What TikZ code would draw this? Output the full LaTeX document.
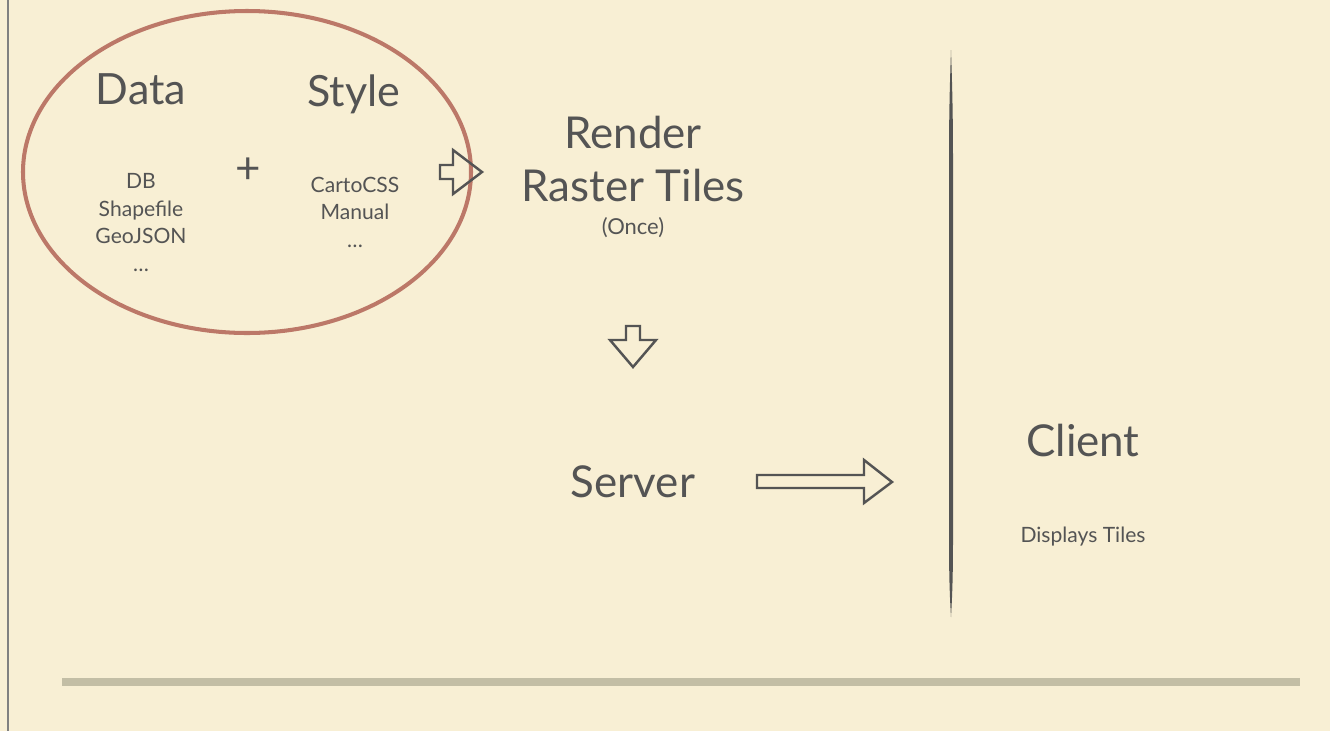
\documentclass[tikz,border=0pt]{standalone}
\usepackage{fontspec}
\setmainfont{Lato}
\usetikzlibrary{positioning}

\definecolor{paper}{HTML}{F8EFD4}
\definecolor{ink}{HTML}{545454}
\definecolor{rust}{HTML}{BC7868}
\definecolor{rulebar}{HTML}{C3BEA5}

\tikzset{
  big/.style={text=ink, font=\fontsize{25}{28}\selectfont, inner sep=0pt, anchor=base},
  bigger/.style={big, font=\fontsize{24.5}{28}\selectfont},
  small/.style={text=ink, font=\fontsize{12}{15.6}\selectfont, align=center, inner sep=0pt, anchor=base},
  hollow/.style={draw=ink, line width=1.4pt, line join=miter}
}

\begin{document}
\begin{tikzpicture}[x=0.02cm, y=-0.02cm]
  \fill[paper] (0,0) rectangle (1330,731);
  \useasboundingbox (0,0) rectangle (1330,731);
  \draw[gray, line width=0.8pt] (8,0) -- (8,731);

  % what goes in
  \draw[rust, line width=2.3pt] (247,172) ellipse (224 and 161);
  \node[bigger] (data) at (141,104) {Data};
  \node[bigger] (style) at (354,106) {Style};
  \node[big] (plus) at (248,183) {+};
  \node[small] (sources) at (141,271) {DB\\Shapefile\\GeoJSON\\\dots};
  \node[small] (looks) at (355,247) {CartoCSS\\Manual\\\dots};
  \draw[hollow] (440,165) -- (453,165) -- (453,150) -- (482,172) -- (453,194) -- (453,179) -- (440,179) -- cycle;

  % rendering
  \node[big] (render) at (633,148) {Render};
  \node[big] (raster) at (633,201) {Raster Tiles};
  \node[small, font=\fontsize{12.5}{15.6}\selectfont] (once) at (633,234) {(Once)};
  \draw[hollow] (626,326) -- (640,326) -- (640,340) -- (656,340) -- (633,367) -- (610,340) -- (626,340) -- cycle;

  \node[big] (server) at (633,497) {Server};
  \draw[hollow] (757,475) -- (864,475) -- (864,460) -- (892,482) -- (864,503) -- (864,488) -- (757,488) -- cycle;

  % split
  \fill[ink] (951,50) .. controls (952,80) and (953,110) .. (953,160) -- (953,540)
    .. controls (953,580) and (952,600) .. (951,617)
    .. controls (950,600) and (949,580) .. (949,540) -- (949,160)
    .. controls (949,110) and (950,80) .. (951,50);

  \node[big] (client) at (1083,456) {Client};
  \node[small] (shows) at (1083,542) {Displays Tiles};

  \draw[rulebar, line width=4.5pt] (62,682) -- (1300,682);
\end{tikzpicture}
\end{document}
